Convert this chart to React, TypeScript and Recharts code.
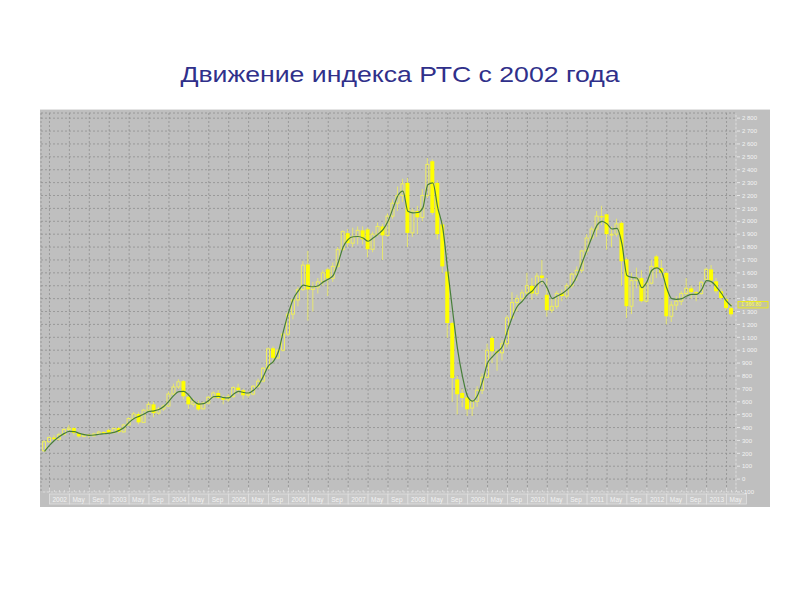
import { ComposedChart, Bar, Line, XAxis, YAxis, CartesianGrid, ReferenceLine } from "recharts";

// месячные свечи РТС, дек 2001 .. июн 2013
const OPEN = [
  220, 290, 322, 310, 345, 385, 396, 357, 331, 345, 335, 350, 365,
  382, 360, 396, 366, 420, 470, 505, 440, 535, 580, 512, 545,
  567, 660, 715, 760, 640, 580, 590, 545, 590, 635, 668, 629,
  615, 640, 710, 690, 650, 660, 720, 760, 860, 1015, 940, 1000,
  1125, 1280, 1390, 1470, 1665, 1471, 1490, 1530, 1627, 1557, 1650, 1780,
  1908, 1830, 1880, 1930, 1937, 1783, 1900, 1960, 1890, 2040, 2140, 2200,
  2298, 1910, 2080, 2030, 2200, 2466, 2298, 1976, 1610, 1211, 774, 668,
  634, 551, 603, 690, 790, 1095, 991, 980, 1050, 1250, 1370, 1400,
  1445, 1500, 1440, 1580, 1430, 1310, 1340, 1440, 1420, 1500, 1590, 1620,
  1770, 1870, 1940, 2040, 2054, 1900, 1900, 1988, 1705, 1341, 1540, 1560,
  1380, 1520, 1728, 1638, 1600, 1263, 1350, 1380, 1440, 1480, 1450, 1440,
  1550, 1627, 1535, 1457, 1395, 1327,
];
const HIGH = [
  300, 330, 340, 360, 395, 420, 405, 365, 355, 350, 360, 375, 372,
  392, 400, 405, 430, 480, 520, 520, 545, 600, 600, 560, 580,
  680, 740, 775, 770, 650, 625, 610, 600, 645, 680, 690, 650,
  660, 720, 740, 700, 680, 730, 780, 870, 1020, 1030, 1010, 1140,
  1300, 1400, 1490, 1690, 1770, 1530, 1560, 1620, 1640, 1680, 1800, 1930,
  1940, 1950, 1960, 1960, 1950, 1920, 1990, 1980, 2060, 2170, 2270, 2330,
  2337, 2100, 2120, 2250, 2490, 2480, 2320, 2000, 1640, 1220, 800, 700,
  650, 620, 720, 820, 1050, 1110, 1010, 1080, 1270, 1450, 1430, 1470,
  1600, 1560, 1600, 1700, 1560, 1400, 1460, 1470, 1520, 1600, 1650, 1780,
  1900, 1960, 2080, 2120, 2060, 1960, 2020, 2000, 1720, 1600, 1640, 1620,
  1530, 1700, 1740, 1700, 1610, 1380, 1420, 1460, 1560, 1500, 1460, 1540,
  1640, 1660, 1560, 1480, 1420, 1360,
];
const LOW = [
  210, 280, 300, 300, 340, 370, 340, 320, 325, 320, 330, 345, 345,
  350, 355, 355, 362, 415, 460, 425, 435, 525, 480, 500, 530,
  560, 650, 700, 620, 545, 560, 530, 540, 580, 625, 620, 580,
  600, 630, 660, 620, 630, 650, 710, 750, 850, 900, 930, 990,
  1110, 1240, 1340, 1460, 1230, 1300, 1440, 1500, 1420, 1530, 1640, 1770,
  1800, 1800, 1820, 1820, 1720, 1760, 1880, 1700, 1880, 2020, 2080, 2150,
  1800, 1880, 1900, 2000, 2180, 2050, 1860, 1600, 1095, 600, 502, 560,
  490, 490, 560, 660, 780, 900, 840, 920, 1020, 1240, 1300, 1380,
  1430, 1390, 1420, 1510, 1260, 1290, 1320, 1380, 1400, 1480, 1540, 1600,
  1740, 1850, 1880, 1970, 1780, 1800, 1880, 1500, 1250, 1280, 1480, 1370,
  1370, 1510, 1560, 1560, 1200, 1220, 1310, 1350, 1420, 1400, 1380, 1430,
  1530, 1510, 1440, 1390, 1310, 1260,
];
const CLOSE = [
  290, 322, 310, 345, 385, 396, 357, 331, 345, 335, 350, 365, 358,
  360, 393, 366, 420, 470, 505, 440, 535, 580, 512, 545, 567,
  660, 715, 755, 642, 580, 600, 540, 590, 635, 668, 629, 615,
  640, 710, 690, 650, 660, 720, 760, 860, 1010, 940, 1000, 1125,
  1280, 1390, 1470, 1660, 1471, 1490, 1530, 1600, 1557, 1650, 1780, 1920,
  1830, 1880, 1930, 1860, 1783, 1900, 1960, 1890, 2040, 2140, 2200, 2290,
  1910, 2080, 2030, 2200, 2440, 2065, 1900, 1650, 1211, 784, 658, 629,
  541, 603, 690, 790, 1000, 991, 980, 1050, 1250, 1370, 1400, 1445,
  1500, 1440, 1575, 1560, 1310, 1340, 1440, 1420, 1500, 1590, 1620, 1770,
  1870, 1940, 2040, 2030, 1900, 1900, 1980, 1690, 1341, 1540, 1560, 1380,
  1520, 1650, 1638, 1600, 1263, 1350, 1380, 1440, 1480, 1450, 1440, 1527,
  1627, 1540, 1457, 1405, 1327, 1278,
];
// сглаженная (зелёная) линия
const MA = [
  215, 262, 300, 330, 355, 370, 368, 355, 345, 340, 342, 348, 352,
  356, 362, 378, 400, 440, 470, 487, 505, 525, 530, 540, 565,
  605, 650, 678, 680, 650, 605, 582, 585, 610, 640, 642, 632,
  630, 660, 680, 672, 668, 690, 730, 800, 880, 914, 990, 1150,
  1290, 1400, 1460, 1505, 1496, 1492, 1500, 1530, 1550, 1580, 1680, 1800,
  1860, 1880, 1882, 1870, 1845, 1870, 1900, 1935, 2000, 2100, 2200, 2234,
  2077, 2065, 2068, 2104, 2284, 2298, 2104, 1949, 1620, 1300, 1000, 790,
  640, 605, 650, 760, 900, 950, 990, 1030, 1150, 1260, 1341, 1380,
  1430, 1460, 1510, 1535, 1480, 1400, 1420, 1440, 1470, 1510, 1580, 1680,
  1780, 1880, 1970, 2000, 1980, 1940, 1945, 1822, 1580, 1565, 1560, 1485,
  1530, 1620, 1638, 1605, 1480, 1400, 1395, 1400, 1420, 1433, 1433, 1470,
  1540, 1530, 1490, 1440, 1380, 1341,
];

// подписи нижней оси: начало каждой трети года (янв / май / сен)
const X_TICKS = [
  1, 5, 9, 13, 17, 21, 25, 29, 33, 37, 41, 45, 49, 53, 57, 61, 65, 69,
  73, 77, 81, 85, 89, 93, 97, 101, 105, 109, 113, 117, 121, 125, 129, 133, 137,
];
const X_TICK_LABELS = [
  "2002", "May", "Sep", "2003", "May", "Sep", "2004", "May", "Sep",
  "2005", "May", "Sep", "2006", "May", "Sep", "2007", "May", "Sep",
  "2008", "May", "Sep", "2009", "May", "Sep", "2010", "May", "Sep",
  "2011", "May", "Sep", "2012", "May", "Sep", "2013", "May",
];
const Y_TICKS = [
  -100, 0, 100, 200, 300, 400, 500, 600, 700, 800, 900, 1000, 1100, 1200, 1300,
  1400, 1500, 1600, 1700, 1800, 1900, 2000, 2100, 2200, 2300, 2400, 2500, 2600, 2700, 2800,
];
const LAST_PRICE = 1355;
const LAST_LABEL = "1 366.80";

const W = 730;
const H = 398;
const MARGIN = { top: 3, right: 4, bottom: 2, left: 1 };
const Y_AXIS_W = 30;
const X_AXIS_H = 14;
const X_PAD = { left: 1, right: 2 };
const PLOT_W = W - MARGIN.left - MARGIN.right - Y_AXIS_W;
const MONTH_PX = (PLOT_W - X_PAD.left - X_PAD.right) / OPEN.length;

const FILL = "#ffff00";
const HOLLOW = "#eeee5e";
const WICK = "#e6e670";
const AXIS_TEXT = "#f3f3f3";
const FONT = "Arial, 'Liberation Sans', sans-serif";

const data = OPEN.map((o, i) => ({
  t: i,
  range: [LOW[i], HIGH[i]],
  open: o,
  close: CLOSE[i],
  ma: MA[i],
}));

function fmt(v: number) {
  if (Math.abs(v) < 1000) return String(v);
  return `${Math.floor(v / 1000)} ${String(v % 1000).padStart(3, "0")}`;
}

function Candle(props: any) {
  const { x, y, width, height, payload } = props;
  if (x == null || !payload) return null;
  const [lo, hi] = payload.range;
  const top = Math.min(y, y + height);
  const span = Math.abs(height);
  const toPx = (v: number) => top + ((hi - v) / (hi - lo)) * span;
  const cx = x + width / 2;
  const yO = toPx(payload.open);
  const yC = toPx(payload.close);
  const bTop = Math.min(yO, yC);
  const bH = Math.max(Math.abs(yO - yC), 1);
  const up = payload.close >= payload.open;
  return (
    <g>
      <line x1={cx} x2={cx} y1={top} y2={bTop} stroke={WICK} strokeWidth={1} />
      <line x1={cx} x2={cx} y1={bTop + bH} y2={top + span} stroke={WICK} strokeWidth={1} />
      {up ? (
        <rect x={cx - 1.5} y={bTop} width={3} height={bH} fill="none" stroke={HOLLOW} strokeWidth={1} />
      ) : (
        <rect x={cx - 2} y={bTop} width={4} height={bH} fill={FILL} />
      )}
    </g>
  );
}

function MonthTick(props: any) {
  const { x, y, payload } = props;
  const i = X_TICKS.indexOf(payload.value);
  const label = X_TICK_LABELS[i] ?? "";
  const w = MONTH_PX * 4;
  return (
    <g>
      {[0, 1, 2, 3].map((k) => (
        <line key={k} x1={x + k * MONTH_PX} x2={x + k * MONTH_PX} y1={y - (k === 0 ? 4 : 2)} y2={y} stroke="#e2e2e2" strokeWidth={0.8} />
      ))}
      <rect x={x} y={y + 2} width={w} height={10} fill="#c9c9c9" stroke="#e0e0e0" strokeWidth={0.8} />
      <text x={x + 3} y={y + 9.5} fontSize={6.5} fill={AXIS_TEXT} fontFamily={FONT}>{label}</text>
    </g>
  );
}

function PriceTick(props: any) {
  const { x, y, payload } = props;
  return (
    <g>
      <line x1={x + 1} x2={x + 4} y1={y} y2={y} stroke="#e6e6e6" />
      <text x={x + 6} y={y + 2.2} fontSize={6} fill={AXIS_TEXT} fontFamily={FONT}>{fmt(payload.value)}</text>
    </g>
  );
}

function LastPrice(props: any) {
  const vb = props.viewBox;
  if (!vb) return null;
  const lx = vb.x + vb.width + 2;
  return (
    <g>
      <rect x={lx} y={vb.y - 3} width={30} height={6.5} fill="#c4c4a0" stroke="#f2f200" strokeWidth={0.8} />
      <text x={lx + 3} y={vb.y + 2} fontSize={5.2} fill="#ffff40" fontFamily={FONT}>{LAST_LABEL}</text>
    </g>
  );
}

export default function App() {
  return (
    <div style={{ position: "absolute", left: 0, top: 0, width: 800, height: 600, background: "#fff" }}>
      <div
        style={{
          position: "absolute", left: 0, top: 62, width: 800, height: 26, lineHeight: "26px",
          textAlign: "center", fontFamily: FONT, fontSize: 22, color: "#30308a",
          transform: "scaleX(1.21)", transformOrigin: "400px 13px",
        }}
      >
        Движение индекса РТС с 2002 года
      </div>
      <div style={{ position: "absolute", left: 40, top: 109, width: W, height: H, background: "#bfbfbf", borderTop: "1px solid #e4e4e4", boxSizing: "border-box" }}>
        <ComposedChart width={W} height={H} data={data} margin={MARGIN}>
          <CartesianGrid stroke="#8f8f8f" strokeDasharray="2 2" strokeWidth={0.8} />
          <XAxis
            dataKey="t"
            ticks={X_TICKS}
            interval={0}
            height={X_AXIS_H}
            padding={X_PAD}
            tickSize={0}
            tickMargin={0}
            tickLine={false}
            axisLine={{ stroke: "#dcdcdc" }}
            tick={<MonthTick />}
          />
          <YAxis
            orientation="right"
            type="number"
            domain={[-100, 2840]}
            allowDataOverflow
            ticks={Y_TICKS}
            interval={0}
            width={Y_AXIS_W}
            tickSize={0}
            tickMargin={0}
            tickLine={false}
            axisLine={{ stroke: "#dcdcdc" }}
            tick={<PriceTick />}
          />
          <Bar dataKey="range" barSize={4} shape={<Candle />} isAnimationActive={false} />
          <Line type="monotone" dataKey="ma" stroke="#477f3a" strokeWidth={1.2} dot={false} isAnimationActive={false} />
          <ReferenceLine y={LAST_PRICE} stroke="none" label={<LastPrice />} />
        </ComposedChart>
      </div>
    </div>
  );
}
